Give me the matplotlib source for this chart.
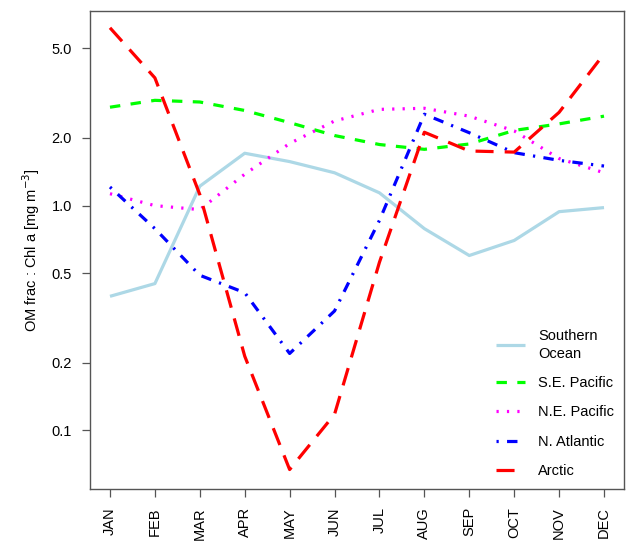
import matplotlib
matplotlib.use("Agg")
import matplotlib.pyplot as plt
from matplotlib.ticker import FixedLocator, FixedFormatter, NullLocator

plt.rcParams['font.family'] = ['Liberation Sans', 'DejaVu Sans']
plt.rcParams['lines.scale_dashes'] = False

months = ["JAN", "FEB", "MAR", "APR", "MAY", "JUN",
          "JUL", "AUG", "SEP", "OCT", "NOV", "DEC"]

southern_ocean = [0.395, 0.45, 1.22, 1.71, 1.57, 1.40, 1.14, 0.79, 0.60, 0.70, 0.94, 0.98]
se_pacific     = [2.74, 2.94, 2.89, 2.65, 2.34, 2.05, 1.87, 1.78, 1.88, 2.16, 2.31, 2.50]
ne_pacific     = [1.13, 1.00, 0.96, 1.38, 1.89, 2.38, 2.68, 2.71, 2.50, 2.15, 1.62, 1.40]
n_atlantic     = [1.21, 0.79, 0.49, 0.41, 0.22, 0.34, 0.86, 2.55, 2.11, 1.72, 1.59, 1.50]
arctic         = [6.18, 3.70, 1.12, 0.214, 0.067, 0.118, 0.56, 2.12, 1.75, 1.73, 2.60, 4.73]

ytick_vals = [0.1, 0.2, 0.5, 1.0, 2.0, 5.0]
ytick_labels = ["0.1", "0.2", "0.5", "1.0", "2.0", "5.0"]

fig = plt.figure(figsize=(6.29, 5.42), dpi=100)
ax = fig.add_axes([90/629, 1-489/542, (624-90)/629, (489-11)/542])

x = list(range(1, 13))
lw = 2.3
ax.plot(x, southern_ocean, color='#add8e6', lw=lw, solid_capstyle='butt', label='Southern\nOcean')
ax.plot(x, se_pacific, color='#00ff00', lw=lw, dashes=(7.5, 7.5), dash_capstyle='butt', label='S.E. Pacific')
ax.plot(x, ne_pacific, color='#ff00ff', lw=lw, dashes=(1.6, 5.9), dash_capstyle='butt', label='N.E. Pacific')
ax.plot(x, n_atlantic, color='#0000ff', lw=lw, dashes=(1.6, 6, 7.5, 6), dash_capstyle='butt', label='N. Atlantic')
ax.plot(x, arctic, color='#ff0000', lw=lw, dashes=(13, 8), dash_capstyle='butt', label='Arctic')

ax.set_yscale('log')
ax.set_ylim(0.0549, 7.34)
ax.set_xlim(0.555, 12.445)
ax.yaxis.set_major_locator(FixedLocator(ytick_vals))
ax.yaxis.set_major_formatter(FixedFormatter(ytick_labels))
ax.yaxis.set_minor_locator(NullLocator())
ax.set_xticks(x)
ax.set_xticklabels(months, rotation=90)

for s in ax.spines.values():
    s.set_color('#555555')
    s.set_linewidth(1.0)
ax.tick_params(axis='both', length=6, width=0.9, color='#555555', labelsize=10.5, pad=7)

ax.set_ylabel('OM frac : Chl a [mg m$^{-3}$]', fontsize=10.5, labelpad=7)

leg = ax.legend(loc='lower right', bbox_to_anchor=(1.0 + 6/534, -5/478), frameon=False,
                fontsize=10.5, handlelength=2.0, labelspacing=1.05, handletextpad=0.9,
                borderaxespad=0.7)
for t in leg.get_texts():
    t.set_linespacing(1.3)

fig.savefig('out.png', dpi=100)
